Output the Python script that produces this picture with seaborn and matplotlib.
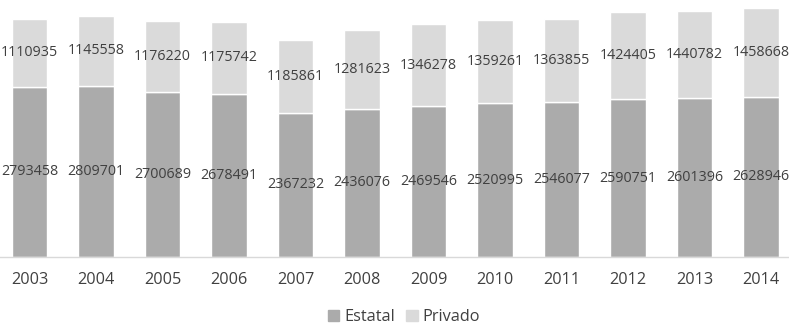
import pandas as pd
import matplotlib
matplotlib.use('Agg')
import matplotlib.pyplot as plt
import seaborn as sns
from matplotlib.patches import Patch

years = ['2003', '2004', '2005', '2006', '2007', '2008',
         '2009', '2010', '2011', '2012', '2013', '2014']
estatal = [2793458, 2809701, 2700689, 2678491, 2367232, 2436076,
           2469546, 2520995, 2546077, 2590751, 2601396, 2628946]
privado = [1110935, 1145558, 1176220, 1175742, 1185861, 1281623,
           1346278, 1359261, 1363855, 1424405, 1440782, 1458668]

c_est = '#ababab'
c_priv = '#dadada'
txt = '#404040'

sns.set_style('white')
plt.rcParams['font.family'] = ['Open Sans', 'DejaVu Sans']

df = pd.DataFrame({'year': years, 'Estatal': estatal, 'Privado': privado})

fig = plt.figure(figsize=(7.89, 3.28), dpi=100)
ax = fig.add_axes([0, 71 / 328, 1, 257 / 328])

sns.barplot(data=df, x='year', y='Estatal', color=c_est, width=0.53,
            saturation=1, ax=ax)
sns.barplot(data=df, x='year', y='Privado', bottom=df['Estatal'], color=c_priv,
            width=0.53, saturation=1, ax=ax)

for cont in ax.containers:
    ax.bar_label(cont, labels=[str(int(b.get_height())) for b in cont],
                 label_type='center', fontsize=10.3, color=txt)

ax.set_xlim(-0.444, 11.42)
ax.set_ylim(0, 4216000)
ax.set_xlabel('')
ax.set_ylabel('')
ax.set_yticks([])
for s in ['top', 'right', 'left']:
    ax.spines[s].set_visible(False)
ax.spines['bottom'].set_color('#d9d9d9')
ax.spines['bottom'].set_linewidth(1)
ax.tick_params(axis='x', length=0, labelsize=11.7, labelcolor=txt, pad=11)

handles = [Patch(color=c_est, label='Estatal'), Patch(color=c_priv, label='Privado')]
fig.legend(handles=handles, loc='center', bbox_to_anchor=(0.512, 1 - 317 / 328),
           ncol=2, frameon=False, fontsize=11.7, handlelength=0.7, handleheight=0.7,
           handletextpad=0.3, columnspacing=0.7, labelcolor=txt)

fig.savefig('out.png', dpi=100)
